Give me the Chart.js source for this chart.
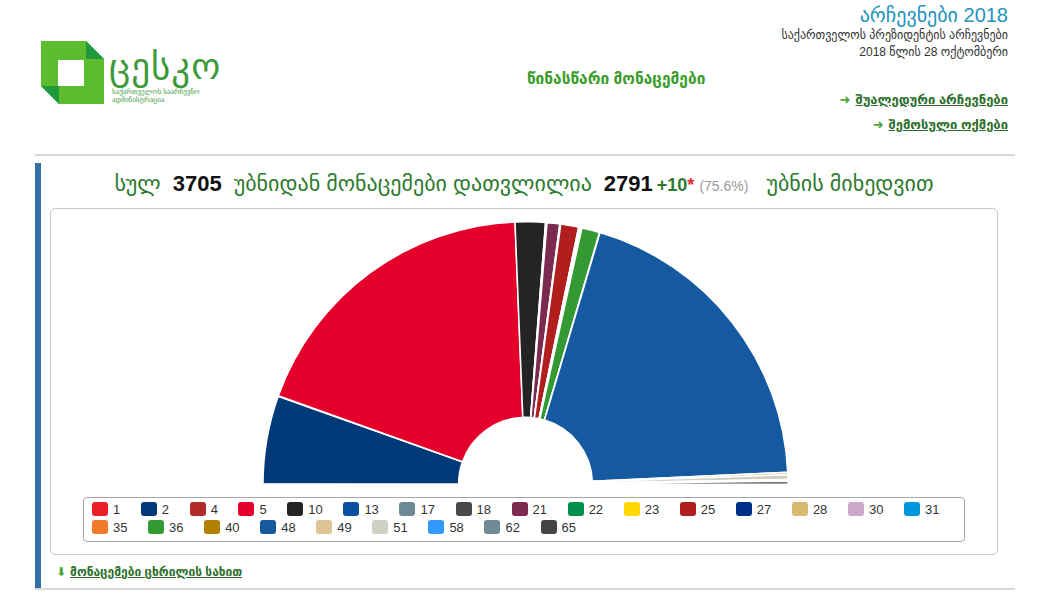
<!DOCTYPE html>
<html>
<head>
<meta charset="utf-8">
<script src="https://cdn.jsdelivr.net/npm/chart.js@4.4.0/dist/chart.umd.min.js"></script>
<style>
  body { margin: 0; width: 1050px; height: 596px; background: #fff; position: relative; overflow: hidden;
         font-family: Arial, "Liberation Sans", "DejaVu Sans", sans-serif; color: #333; }
  .abs { position: absolute; }
  .logo-text { left: 109px; top: 45px; font-size: 37px; color: #3d9a3a; letter-spacing: 1px; }
  .logo-sub { left: 112px; top: 88px; font-size: 7px; line-height: 8px; color: #3d9a3a; }
  .title { right: 42px; top: 3px; font-size: 20px; color: #2394bd; }
  .subtitle { right: 42px; top: 27px; font-size: 12px; line-height: 17px; text-align: right; color: #333; }
  .prelim { left: 527px; top: 70px; font-size: 15.5px; font-weight: bold; color: #3c9c2c; }
  .link { font-size: 13px; font-weight: bold; color: #2c6e2c; text-decoration: underline; white-space: nowrap; }
  .link .arr { color: #4aa93a; text-decoration: none; display: inline-block; margin-right: 5px; }
  .hr { left: 35px; width: 980px; height: 2px; background: #d8d8d8; }
  .side { left: 35px; top: 163px; width: 6px; height: 427px; background: #3470a8; }
  .head { left: 37px; width: 974px; top: 171px; text-align: center; font-size: 22px; color: #2e7a2e; white-space: nowrap; }
  .head b { color: #111; font-size: 22px; margin: 0 12px; }
  .head .plus { color: #2e7a2e; font-weight: bold; font-size: 18px; }
  .head .star { color: #e52b2b; font-weight: bold; font-size: 18px; }
  .head .pct { color: #999; font-size: 14px; margin: 0 18px 0 5px; }
  .box { left: 50px; top: 208px; width: 946px; height: 345px; border: 1px solid #c8c8c8; border-radius: 5px; }
  .chart-wrap { left: 262px; top: 221px; width: 527px; height: 264px; }
  .legend { left: 83px; top: 497px; width: 872px; height: 38px; border: 1px solid #a8a8a8; border-radius: 4px;
            padding: 3px 0 2px 8px; font-size: 13px; line-height: 18px; color: #333;
            display: flex; flex-wrap: wrap; column-gap: 20.6px; align-content: flex-start; }
  .legend span.item { display: inline-block; white-space: nowrap; }
  .legend i { display: inline-block; width: 16px; height: 14px; border-radius: 3px; vertical-align: -2px; margin-right: 5px; }
</style>
</head>
<body>
<script>
// candidate numbers shown in the legend, vote share (%) and party colours
const candidateNumbers = ["1", "2", "4", "5", "10", "13", "17", "18", "21", "22", "23", "25", "27",
  "28", "30", "31", "35", "36", "40", "48", "49", "51", "58", "62", "65"];
const voteShares = [0.06, 10.8, 0.06, 37.7, 3.7, 0.06, 0.06, 0.06, 1.55, 0.06, 0.06, 2.2, 0.06,
  0.06, 0.06, 0.17, 0.06, 2.2, 0.06, 39.3, 0.28, 0.6, 0.08, 0.11, 0.37];
const partyColors = ["#e8202a", "#003a78", "#b22a2a", "#e4002b", "#242424", "#0a4fa0", "#6e8a94",
  "#4a4a4a", "#7d2a50", "#00904a", "#ffd700", "#b01e1e", "#003087", "#d9b870", "#cfa9cc", "#0097dc",
  "#f07a28", "#339933", "#b08000", "#1559a0", "#dfc495", "#cfcfc4", "#3399ff", "#6f8a95", "#444444"];
</script>

<svg class="abs" style="left:0;top:0" width="110" height="110">
  <polygon points="41,41 86,41 104,59 104,104 59,104 41,86" fill="#5dbb2f"/>
  <polygon points="86,41 104,59 86,59" fill="#1f9a3c"/>
  <polygon points="41,86 59,86 59,104" fill="#1f9a3c"/>
  <rect x="58" y="60" width="26" height="26" fill="#fff"/>
</svg>
<div class="abs logo-text">ცესკო</div>
<div class="abs logo-sub">საქართველოს საარჩევნო<br>ადმინისტრაცია</div>

<div class="abs title">არჩევნები 2018</div>
<div class="abs subtitle">საქართველოს პრეზიდენტის არჩევნები<br>2018 წლის 28 ოქტომბერი</div>
<div class="abs prelim">წინასწარი მონაცემები</div>
<div class="abs link" style="right:42px;top:92px"><span class="arr">➜</span>შუალედური არჩევნები</div>
<div class="abs link" style="right:42px;top:117px"><span class="arr">➜</span>შემოსული ოქმები</div>

<div class="abs hr" style="top:154px"></div>
<div class="abs side"></div>
<div class="abs head">სულ<b>3705</b>უბნიდან მონაცემები დათვლილია<b style="margin-right:4px">2791</b><span class="plus">+10</span><span class="star">*</span><span class="pct">(75.6%)</span>უბნის მიხედვით</div>

<div class="abs box"></div>
<div class="abs chart-wrap"><canvas id="chart"></canvas></div>
<div class="abs legend" id="legend"></div>

<div class="abs link" style="left:56px;top:565px;font-size:12px"><span class="arr" style="margin-right:4px">⬇</span>მონაცემები ცხრილის სახით</div>
<div class="abs hr" style="top:588px"></div>

<script>
  const htmlLegend = {
    id: "htmlLegend",
    afterUpdate(chart) {
      const box = document.getElementById("legend");
      box.innerHTML = "";
      const items = chart.options.plugins.legend.labels.generateLabels(chart);
      items.forEach((item) => {
        const span = document.createElement("span");
        span.className = "item";
        const sw = document.createElement("i");
        sw.style.background = item.fillStyle;
        span.append(sw, document.createTextNode(item.text));
        box.append(span);
      });
    },
  };

  const chart = new Chart(document.getElementById("chart"), {
    type: "doughnut",
    data: {
      labels: candidateNumbers,
      datasets: [
        {
          data: voteShares,
          backgroundColor: partyColors,
          borderColor: "#fff",
          borderWidth: 1.5,
        },
      ],
    },
    options: {
      responsive: true,
      maintainAspectRatio: false,
      animation: false,
      rotation: -90,
      circumference: 180,
      cutout: "25.5%",
      layout: { padding: 0 },
      plugins: {
        legend: { display: false },
        tooltip: { enabled: false },
      },
    },
    plugins: [htmlLegend],
  });
</script>
</body>
</html>
